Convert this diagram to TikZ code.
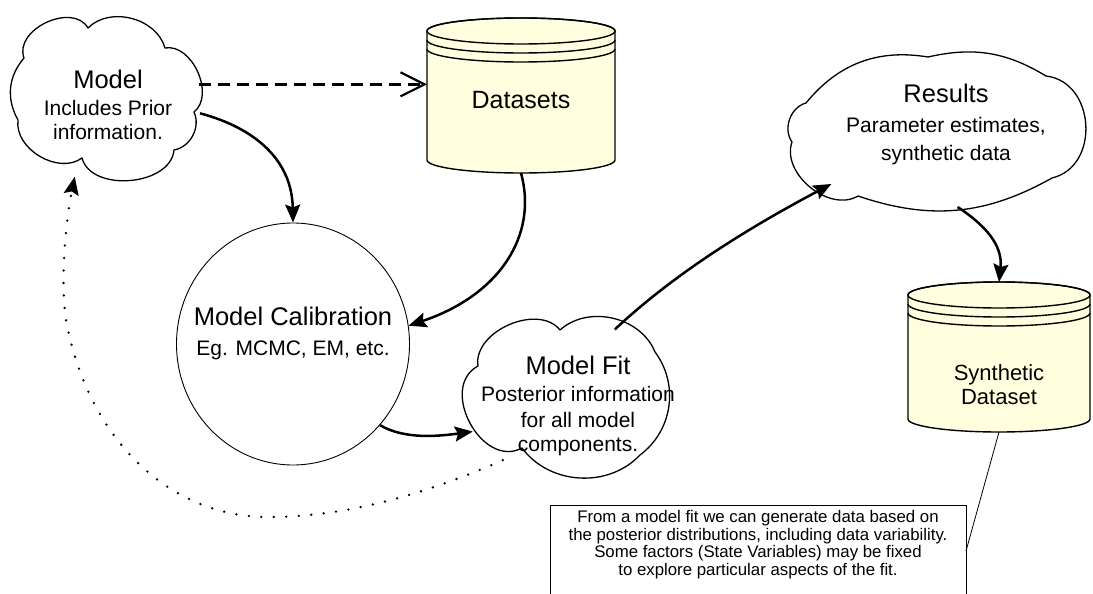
\documentclass[tikz,border=0pt]{standalone}
\usepackage{fontspec}
\setmainfont{Liberation Sans}
\usetikzlibrary{shapes.geometric,arrows.meta}
\definecolor{dbfill}{HTML}{FFFFE0}
\newcommand{\ttlfont}{\fontsize{25.5}{28}\selectfont}
\newcommand{\subfnt}{\fontsize{21}{24}\selectfont}
\newcommand{\dsfont}{\fontsize{25}{27}\selectfont}
\newcommand{\synfont}{\fontsize{22}{24}\selectfont}
\newcommand{\notefnt}{\fontsize{16.8}{17.6}\selectfont}
\begin{document}
\begin{tikzpicture}[x=1pt,y=-1pt,
  cloudline/.style={draw=black, line width=1.3pt, fill=white, line join=round},
  lbl/.style={align=center, inner sep=0pt, font=\subfnt},
  dbbody/.style={fill=dbfill, draw=black, line width=1.4pt},
  dbline/.style={draw=black, line width=1.4pt},
  holder/.style={inner sep=0pt, outer sep=0pt},
  ringholder/.style={ellipse, inner sep=0pt, outer sep=0pt},
  flow/.style={line width=2.5pt, -{Stealth[length=18pt,width=15pt,inset=3pt]}},
  dashflow/.style={line width=2.3pt, dash pattern=on 12pt off 7pt, -{Straight Barb[length=24pt,width=24pt,line width=2.2pt]}},
  dotflow/.style={line width=2.6pt, dash pattern=on 0pt off 12.5pt, line cap=round, -{Stealth[length=18pt,width=15pt,inset=3pt]}},
  pinline/.style={line width=0.8pt}
]
\useasboundingbox (0,0) rectangle (1093,594);
\fill[white] (0,0) rectangle (1093,594);
\clip (0,0) rectangle (1093,594);

% Model cloud
\path[cloudline] (18,120) to[bend left=35] (24,58) to[bend left=85, looseness=1.1] (88,28)
  to[bend left=60] (165,48) to[bend left=76] (194,112) to[bend left=52] (174,150)
  to[bend left=80] (82,158) to[bend left=67] (18,120) -- cycle;
\node[ringholder, minimum width=186pt, minimum height=160pt] (model) at (108,102) {};
\node[lbl] (modeltxt) at (108,105) {{\ttlfont Model}\\[3pt]Includes Prior\\information.};

% Datasets cylinder
\path[dbbody] (427,31) -- (427,160) arc[start angle=180,end angle=0,x radius=94,y radius=13] -- (615,31) arc[start angle=0,end angle=-180,x radius=94,y radius=13] -- cycle;
\draw[dbline] (521,31) ellipse[x radius=94,y radius=13];
\draw[dbline] (427,40) arc[start angle=180,end angle=0,x radius=94,y radius=13];
\draw[dbline] (427,49) arc[start angle=180,end angle=0,x radius=94,y radius=13];
\node[holder, minimum width=188pt, minimum height=155pt] (ds) at (521,95.5) {};
\node[lbl, font=\dsfont] (dstxt) at (521,100) {Datasets};

% Model Calibration
\node[ellipse, draw, line width=0.9pt, minimum width=233pt, minimum height=242pt, inner sep=0pt] (cal) at (293,344) {};
\node[lbl] (caltxt) at (293,333.5) {{\ttlfont Model Calibration}\\[6pt]Eg. MCMC, EM, etc.};

% Model Fit cloud
\path[cloudline] (478,366) to[bend left=75] (560,330) to[bend left=55] (655,352)
  to[bend left=45] (640,455) to[bend left=50] (522,448) to[bend left=90, looseness=1.25] (478,366) -- cycle;
\node[ringholder, minimum width=204pt, minimum height=157pt] (fit) at (565,398) {};
\node[lbl] (fittxt) at (578,406) {{\ttlfont Model Fit}\\[3pt]Posterior information\\[2pt]for all model\\components.};

% Results cloud
\path[cloudline] (806,103) to[bend left=30] (928,57) to[bend left=22] (1046,76)
  to[bend left=80, looseness=1.25] (1052,178)
  to[bend left=24] (858,196) to[bend left=70] (792,142) to[bend left=55] (806,103) -- cycle;
\node[ringholder, minimum width=301pt, minimum height=153pt] (res) at (940,131) {};
\node[lbl] (restxt) at (946,124) {{\ttlfont Results}\\[6pt]Parameter estimates,\\[4pt]synthetic data};

% Synthetic Dataset cylinder
\path[dbbody] (908,295) -- (908,419) arc[start angle=180,end angle=0,x radius=91,y radius=13] -- (1090,295) arc[start angle=0,end angle=-180,x radius=91,y radius=13] -- cycle;
\draw[dbline] (999,295) ellipse[x radius=91,y radius=13];
\draw[dbline] (908,304) arc[start angle=180,end angle=0,x radius=91,y radius=13];
\draw[dbline] (908,313) arc[start angle=180,end angle=0,x radius=91,y radius=13];
\node[holder, minimum width=182pt, minimum height=150pt] (syn) at (999,357) {};
\node[lbl, font=\synfont] (syntxt) at (999,385) {Synthetic\\Dataset};

% Note
\node[draw, line width=0.8pt, minimum width=416pt, minimum height=140pt, inner sep=0pt, anchor=north west] (note) at (550,505) {};
\node[lbl, font=\notefnt] (notetxt) at (758,544.5) {From a model fit we can generate data based on\\the posterior distributions, including data variability.\\Some factors (State Variables) may be fixed\\to explore particular aspects of the fit.};
\coordinate (notepin) at (966,551);

% Connectors
\draw[dashflow] (model.11) -- (ds.west |- model.11);
\draw[flow] (model.-7) .. controls (255,128) and (292,160) .. (cal.north);
\draw[flow] (ds.south) .. controls (538,235) and (500,295) .. (cal.9);
\draw[flow] (cal.-43) .. controls (405,440) and (440,436) .. (fit.200);
\draw[flow] (fit.54) .. controls (676,272) and (752,226) .. (res.206);
\draw[flow] (res.-77) .. controls (985,225) and (1003,245) .. (syn.north);
\draw[dotflow] (fit.225) .. controls (430,492) and (350,517) .. (268,517) .. controls (170,517) and (88,440) .. (66,320) .. controls (60,280) and (66,220) .. (model.246);
\draw[pinline] (syn.south) -- (notepin);
\end{tikzpicture}
\end{document}
